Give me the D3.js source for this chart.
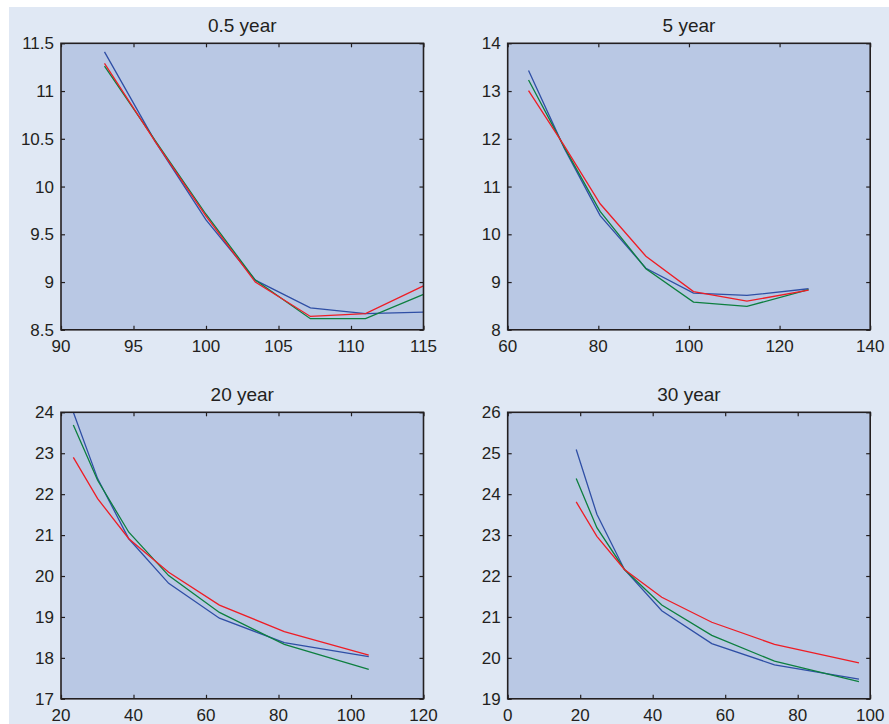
<!DOCTYPE html>
<html>
<head>
<meta charset="utf-8">
<script src="https://cdn.jsdelivr.net/npm/d3@7"></script>
<style>
  html, body { margin: 0; padding: 0; background: #fff; }
  svg { display: block; }
</style>
</head>
<body>
<svg width="889" height="724"></svg>
<script>
// panel titles
const titles = ['0.5 year', '5 year', '20 year', '30 year'];

// x values (strike) per panel
const x05 = [93, 96.5, 100, 103.4, 107.2, 111, 115];
const x5 = [64.6, 72.5, 80.4, 90.5, 101, 112.8, 126.4];
const x20 = [23.4, 30.1, 38.7, 49.7, 63.7, 81.6, 104.9];
const x30 = [18.9, 24.6, 32.2, 42.5, 56.3, 73.6, 96.9];

// series values per panel
const blue05 = [11.41, 10.47, 9.65, 9.02, 8.73, 8.67, 8.685];
const red05 = [11.29, 10.47, 9.69, 9.0, 8.64, 8.67, 8.96];
const green05 = [11.26, 10.48, 9.71, 9.02, 8.616, 8.616, 8.87];

const blue5 = [13.43, 11.8, 10.39, 9.29, 8.77, 8.72, 8.86];
const red5 = [13.01, 11.85, 10.64, 9.54, 8.80, 8.60, 8.83];
const green5 = [13.23, 11.82, 10.48, 9.28, 8.58, 8.49, 8.84];

const blue20 = [24.0, 22.38, 20.91, 19.82, 18.97, 18.37, 18.03];
const red20 = [22.9, 21.89, 20.91, 20.09, 19.29, 18.64, 18.07];
const green20 = [23.69, 22.34, 21.07, 20.01, 19.11, 18.33, 17.72];

const blue30 = [25.09, 23.51, 22.16, 21.15, 20.35, 19.83, 19.48];
const red30 = [23.81, 22.97, 22.16, 21.48, 20.87, 20.33, 19.88];
const green30 = [24.38, 23.18, 22.16, 21.29, 20.55, 19.92, 19.42];

// axis ticks per panel
const xTicks05 = [90, 95, 100, 105, 110, 115];
const yTicks05 = [8.5, 9, 9.5, 10, 10.5, 11, 11.5];
const xTicks5 = [60, 80, 100, 120, 140];
const yTicks5 = [8, 9, 10, 11, 12, 13, 14];
const xTicks20 = [20, 40, 60, 80, 100, 120];
const yTicks20 = [17, 18, 19, 20, 21, 22, 23, 24];
const xTicks30 = [0, 20, 40, 60, 80, 100];
const yTicks30 = [19, 20, 21, 22, 23, 24, 25, 26];

const panels = [
  { title: titles[0], x: x05, series: [blue05, green05, red05], xTicks: xTicks05, yTicks: yTicks05 },
  { title: titles[1], x: x5, series: [blue5, green5, red5], xTicks: xTicks5, yTicks: yTicks5 },
  { title: titles[2], x: x20, series: [blue20, green20, red20], xTicks: xTicks20, yTicks: yTicks20 },
  { title: titles[3], x: x30, series: [blue30, green30, red30], xTicks: xTicks30, yTicks: yTicks30 }
];
const colors = ['#2f4fa5', '#0d7f3f', '#ee1d25'];
const font = '"Liberation Sans", Arial, sans-serif';
const ink = '#231f20';

const svg = d3.select('svg');
const defs = svg.append('defs');

// light page background
svg.append('rect')
  .attr('x', 9).attr('y', 7)
  .attr('width', 880).attr('height', 717)
  .attr('fill', '#e0e8f4');

const lefts = [61, 507.7];
const tops = [43.3, 412.3];
const innerWidth = 362.5;
const innerHeight = 286.5;

const labels = svg.append('g')
  .attr('font-family', font)
  .attr('fill', ink);

panels.forEach((p, i) => {
  const left = lefts[i % 2];
  const top = tops[Math.floor(i / 2)];

  // scales in page coordinates
  const xScale = d3.scaleLinear()
    .domain(d3.extent(p.xTicks))
    .range([left, left + innerWidth]);
  const yScale = d3.scaleLinear()
    .domain(d3.extent(p.yTicks))
    .range([top + innerHeight, top]);

  defs.append('clipPath').attr('id', 'clip' + i)
    .append('rect')
    .attr('x', left).attr('y', top)
    .attr('width', innerWidth)
    .attr('height', innerHeight);

  const g = svg.append('g');

  g.append('rect')
    .attr('x', left).attr('y', top)
    .attr('width', innerWidth)
    .attr('height', innerHeight)
    .attr('fill', '#b9c8e4');

  const line = d3.line()
    .x((d, j) => xScale(p.x[j]))
    .y(d => yScale(d));

  const lines = g.append('g').attr('clip-path', `url(#clip${i})`);
  p.series.forEach((s, k) => {
    lines.append('path')
      .datum(s)
      .attr('fill', 'none')
      .attr('stroke', colors[k])
      .attr('stroke-width', 1.3)
      .attr('d', line);
  });

  // inward tick marks on all four sides, labels drawn separately
  const axes = [
    [d3.axisBottom(xScale).tickValues(p.xTicks), `translate(0,${top + innerHeight})`],
    [d3.axisTop(xScale).tickValues(p.xTicks), `translate(0,${top})`],
    [d3.axisLeft(yScale).tickValues(p.yTicks), `translate(${left},0)`],
    [d3.axisRight(yScale).tickValues(p.yTicks), `translate(${left + innerWidth},0)`]
  ];
  axes.forEach(([axis, tr]) => {
    const a = g.append('g')
      .attr('transform', tr)
      .call(axis.tickSizeInner(-4).tickSizeOuter(0));
    a.selectAll('text').remove();
    a.select('.domain').remove();
    a.selectAll('.tick line').attr('stroke', ink).attr('stroke-width', 1.2);
  });

  // frame
  g.append('rect')
    .attr('x', left).attr('y', top)
    .attr('width', innerWidth)
    .attr('height', innerHeight)
    .attr('fill', 'none')
    .attr('stroke', ink)
    .attr('stroke-width', 1.6);

  labels.selectAll(null)
    .data(p.xTicks)
    .enter().append('text')
    .attr('x', d => xScale(d))
    .attr('y', top + innerHeight + 22)
    .attr('text-anchor', 'middle')
    .attr('font-size', 17)
    .text(d => String(d));

  labels.selectAll(null)
    .data(p.yTicks)
    .enter().append('text')
    .attr('x', left - 7)
    .attr('y', d => yScale(d) + 6)
    .attr('text-anchor', 'end')
    .attr('font-size', 17)
    .text(d => String(d));

  labels.append('text')
    .attr('x', left + innerWidth / 2)
    .attr('y', top - 11)
    .attr('text-anchor', 'middle')
    .attr('font-size', 19)
    .text(p.title);
});
</script>
</body>
</html>
